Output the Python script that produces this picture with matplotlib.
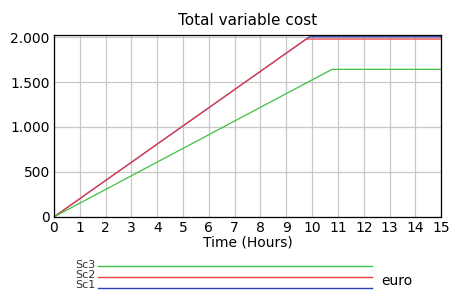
import matplotlib
matplotlib.use('Agg')
import matplotlib.pyplot as plt
from matplotlib.lines import Line2D
from matplotlib.ticker import FuncFormatter

# breakpoints of each run (hours, euro)
t_sc1 = [0, 9.9, 15]
v_sc1 = [0, 2003, 2003]
t_sc2 = [0, 9.77, 15]
v_sc2 = [0, 1978, 1978]
t_sc3 = [0, 10.77, 15]
v_sc3 = [0, 1641, 1641]

names = ['Sc3', 'Sc2', 'Sc1']
colors = {'Sc1': '#2840b8', 'Sc2': '#f04040', 'Sc3': '#40c040'}

plt.rcParams['font.family'] = ['DejaVu Sans']

fig = plt.figure(figsize=(4.53, 2.90), dpi=100)
ax = fig.add_axes([0.119, 0.252, 0.855, 0.627])

ax.plot(t_sc1, v_sc1, color=colors['Sc1'], lw=0.9)
ax.plot(t_sc2, v_sc2, color=colors['Sc2'], lw=0.9)
ax.plot(t_sc3, v_sc3, color=colors['Sc3'], lw=0.9)

ax.set_xlim(0, 15)
ax.set_ylim(0, 2022)
ax.set_xticks(range(0, 16))
ax.set_yticks([0, 500, 1000, 1500, 2000])
ax.yaxis.set_major_formatter(FuncFormatter(lambda v, p: f'{int(v):,}'.replace(',', '.')))
ax.grid(True, color='#c8c8c8', lw=0.9)
ax.set_axisbelow(True)
ax.tick_params(length=0, labelsize=10, pad=3)
for s in ax.spines.values():
    s.set_color('black')
    s.set_linewidth(0.9)

ax.set_title('Total variable cost', fontsize=11, pad=7)
ax.set_xlabel('Time (Hours)', fontsize=10, labelpad=0)

# legend strip below the plot
leg_y = [266, 277, 287.5]
lab_y = [265, 275.5, 284.5]
for name, y, ly in zip(names, leg_y, lab_y):
    fy = 1 - y / 290
    fig.add_artist(Line2D([98 / 453, 372 / 453], [fy, fy], color=colors[name], lw=1.0))
    fig.text(96 / 453, 1 - ly / 290, name, ha='right', va='center', fontsize=8, color='#333333')
fig.text(381 / 453, 1 - 281 / 290, 'euro', ha='left', va='center', fontsize=10)

fig.savefig('out.png', dpi=100)
